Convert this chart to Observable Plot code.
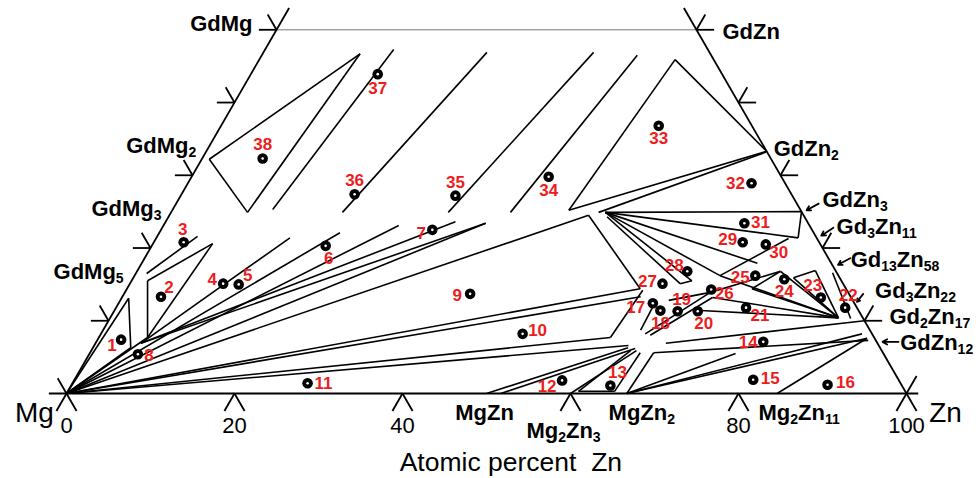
<!DOCTYPE html>
<html><head><meta charset="utf-8">
<script src="https://cdn.jsdelivr.net/npm/d3@7"></script>
<script src="https://cdn.jsdelivr.net/npm/@observablehq/plot@0.6"></script>
<style>body{margin:0;background:#fff}</style>
</head><body><div id="chart"></div>
<script>
// ---- data: compositions in at.% (Zn, Gd) ----
const tickValues = [10, 20, 30, 40, 50];
const baseTicks = [20, 40, 60, 80];
const baseTickLabels = ["0", "20", "40", "80", "100"];
const baseTickLabelZn = [0, 20, 40, 80, 100];

const pointIds = [1,2,3,4,5,6,7,8,9,10,11,12,13,14,15,16,17,18,19,20,21,22,23,24,25,26,27,28,29,30,31,32,33,34,35,36,37,38];
const pointZn = [2.8,4.6,3.55,11.1,13,20.7,32.3,5.8,41.2,50.2,28,58.1,64.2,79.4,80.8,90,63.6,65,67.1,69.5,75,86.8,83.2,77.6,73.9,69.6,63.4,65.5,70.1,73,69,67.1,52.1,42.5,32.7,20.6,15.1,7.2];
const pointGd = [7.4,13.3,20.8,15.1,15,20.3,22.5,5.4,13.7,8.2,1.4,1.8,1.1,7.1,1.9,1.2,12.4,11.4,11.3,11.3,11.8,11.8,13.2,15.7,16.2,14.3,15.1,16.8,20.8,20.5,23.4,28.9,36.8,29.8,27.2,27.4,43.9,32.3];

// tie-lines / phase boundaries: [Zn1, Gd1, Zn2, Gd2]
const tieLines = [
  [11.6,46.7, 0.9,32.2],[0.9,32.2, 9.1,24.9],[11.6,46.7, 9.1,24.9],
  [15.3,47.3, 11.9,25.3],[26.6,46.9, 20.4,24.9],[39.3,46.9, 33.0,24.9],[44.7,46.5, 40.4,24.9],
  [49.5,45.9, 47.2,25.2],[49.5,45.9, 66.7,33.3],[47.2,25.2, 66.7,33.3],[50.9,24.9, 66.7,33.2],
  [51.7,24.9, 75,25],[75,25, 76.4,21.4],[51.7,24.9, 76.4,21.4],
  [51.7,24.9, 69.7,16.2],[69.7,16.2, 75.3,21.3],[51.7,24.9, 73.3,17.9],
  [49.9,24.5, 61.1,14.4],[52.2,24.3, 65.5,15.1],[51.7,24.9, 66.7,15.5],[65.5,15.1, 66.7,15.5],
  [86.7,10.4, 69.7,16.2],[86.7,10.4, 74.4,14.4],[86.7,10.4, 76.6,16.8],[74.4,14.4, 76.6,16.8],
  [78.6,15.9, 80.7,16.9],[80.7,16.9, 86.7,10.4],[78.6,15.9, 86.7,10.4],[82.9,16.6, 88.2,10.3],
  [86.7,10.4, 69.8,11.4],
  [64.8,8.2, 69.7,13.9],[65.5,8.0, 70.3,13.2],[65.3,12.8, 69.7,13.9],[70.3,13.2, 86.7,10.4],
  [69.7,13.9, 76.6,16.8],[64,8.7, 63.8,12.8],
  [66.7,0, 91.5,7.6],[66.7,0, 90.6,8.2],[84.6,0, 91.5,7.6],[67.9,6.9, 90,10],[67.1,5.6, 91.8,7.3],
  [61.5,14.2, 60.9,7.7],
  [0,0, 61.1,14.4],[0,0, 61.7,13.3],[0,0, 60.9,7.7],[0,0, 63.6,6.6],[0,0, 49.9,24.5],
  [5.4,6.9, 34.5,23.6],[5.4,6.9, 38.2,23.4],[0,0, 38.2,23.4],[0,0, 28,23.1],[0,0, 21.5,22.1],[5.4,6.9, 15.9,21.4],
  [0,0, 0.85,13.1],[0.85,13.1, 4.5,6.3],[0,0, 4.5,6.3],[0,0, 5.8,7.7],
  [1.9,15.5, 5.8,7.7],[1.9,15.5, 7.1,20.6],[7.1,20.6, 5.8,7.7],[1.3,16.5, 4.8,21.6],
  [50,0, 63.7,6.3],[51.7,0, 64.6,6.2],[60,0, 64.9,5.9],
  [60.8,0.3, 65.1,0.3],[60.8,0.3, 64.2,5.9],[65.1,0.3, 65.5,5.6],
  [66.7,0, 67.1,5.6],[66.7,0, 76.9,5.5]
];

// compound labels
const compoundNames = ["GdMg","GdMg2","GdMg3","GdMg5","GdZn","GdZn2","GdZn3","Gd3Zn11","Gd13Zn58","Gd3Zn22","Gd2Zn17","GdZn12","MgZn","Mg2Zn3","MgZn2","Mg2Zn11"];
const compoundZn = [0,0,0,0,50,66.7,75,78.6,81.7,88,89.5,92.3,50,60,66.7,84.6];
const compoundGd = [50,33.3,25,16.7,50,33.3,25,21.4,18.3,12,10.5,7.7,0,0,0,0];

// arrows pointing to compounds [Zn1,Gd1,Zn2,Gd2]
const pointerArrows = [
  [76.5,26.1, 75.5,25.2],[79.9,22.8, 79,21.7],[84,18.6, 83,17.7],[88,13.7, 87.8,12.6],[95.5,7.1, 93.6,7.1]
];

// ---- layout / style (not data) ----
const W = 976, H = 478, mL = 66, mR = 70, mT = 29.3, mB = 85;
const labelOffsets = {
  1:[-9,6],2:[8,-9],3:[-1,-13],4:[-11,-4],5:[9,-9],6:[3,13],7:[-11,4],8:[11,1],9:[-13,2],10:[15,-3],
  11:[16,0],12:[-15,6],13:[7,-13],14:[-15,1],15:[17,-1],16:[18,-2],17:[-17,4],18:[0,13],19:[4,-12],20:[6,12],
  21:[14,8],22:[3,-12],23:[-8,-12],24:[0,12],25:[-15,2],26:[13,4],27:[-15,-2],28:[-13,-6],29:[-15,-3],30:[13,8],
  31:[16,-1],32:[-16,0],33:[0,13],34:[0,14],35:[0,-13],36:[0,-14],37:[0,14],38:[0,-14]
};
const compoundPlace = {
  "GdMg":["end",-24,-6],"GdMg2":["end",-10,-5],"GdMg3":["end",-10,-3],"GdMg5":["end",-13,0],
  "GdZn":["start",26,2],"GdZn2":["start",7,-2],"GdZn3":["start",21,-12],"Gd3Zn11":["start",20,-11],
  "Gd13Zn58":["start",21,0],"Gd3Zn22":["start",19,-15],"Gd2Zn17":["start",27,0],"GdZn12":["start",26,5],
  "MgZn":["middle",-2,19],"Mg2Zn3":["middle",-7,37],"MgZn2":["middle",15,19],"Mg2Zn11":["middle",22,19]
};

const X = (zn, gd) => zn + gd / 2;
const segX1 = d => X(d[0], d[1]), segY1 = d => d[1], segX2 = d => X(d[2], d[3]), segY2 = d => d[3];

// frame segments built from tick values
const frame = [
  [-2.1,0, 101.4,0], [0,-2.4, 0,53], [102.4,-2.4, 47,53],
  [-2.1,2.1, 2.4,-2.4], [100,-2.4, 100,2.4]
];
for (const g of tickValues) {
  frame.push([0,g, -2.1,g], [0,g, -2.1,g+2.1]);
  frame.push([100-g,g, 102.1-g,g], [100-g,g, 100-g,g+2.1]);
}
for (const z of baseTicks) frame.push([z,0, z,-2.4], [z,0, z+2.4,-2.4]);

const points = pointIds.map((id, i) => ({id, zn: pointZn[i], gd: pointGd[i]}));
const compounds = compoundNames.map((n, i) => ({name: n, zn: compoundZn[i], gd: compoundGd[i]}));

const font = "'Liberation Sans', Arial, sans-serif";
const marks = [
  Plot.link([[0,50,50,50]], {x1: segX1, y1: segY1, x2: segX2, y2: segY2, stroke: "#777", strokeWidth: 1}),
  Plot.link(frame, {x1: segX1, y1: segY1, x2: segX2, y2: segY2, stroke: "black", strokeWidth: 1.8}),
  Plot.link(tieLines, {x1: segX1, y1: segY1, x2: segX2, y2: segY2, stroke: "black", strokeWidth: 1.6}),
  Plot.arrow(pointerArrows, {x1: segX1, y1: segY1, x2: segX2, y2: segY2, stroke: "black", strokeWidth: 1.8, headLength: 6}),
  Plot.dot(points, {x: d => X(d.zn, d.gd), y: "gd", r: 5.3, fill: "black", stroke: "none"}),
  Plot.dot(points, {x: d => X(d.zn, d.gd), y: "gd", r: 1.3, fill: "white", stroke: "none"})
];
for (const p of points) {
  const [dx, dy] = labelOffsets[p.id];
  marks.push(Plot.text([p], {x: d => X(d.zn, d.gd), y: "gd", text: d => String(d.id), dx, dy,
    fill: "#ee1c1c", fontSize: 17, fontWeight: "bold", fontFamily: font}));
}
for (const c of compounds) {
  const [anchor, dx, dy] = compoundPlace[c.name];
  marks.push(Plot.text([c], {x: d => X(d.zn, d.gd), y: "gd", text: "name", dx, dy, textAnchor: anchor,
    fill: "black", fontSize: 22, fontWeight: "bold", fontFamily: font}));
}
marks.push(Plot.text(baseTickLabels.map((t, i) => ({t, zn: baseTickLabelZn[i]})),
  {x: "zn", y: () => 0, text: "t", dy: 32, fontSize: 22, fontFamily: font, fill: "black"}));
marks.push(Plot.text([{t: "Mg", zn: 0}], {x: "zn", y: () => 0, text: "t", dx: -32, dy: 20, fontSize: 28, fontFamily: font, fill: "black"}));
marks.push(Plot.text([{t: "Zn", zn: 100}], {x: "zn", y: () => 0, text: "t", dx: 39, dy: 20, fontSize: 28, fontFamily: font, fill: "black"}));
marks.push(Plot.text([{t: "Atomic percent  Zn", zn: 52.9}], {x: "zn", y: () => 0, text: "t", dy: 69, fontSize: 26.5, fontFamily: font, fill: "black"}));

const chart = Plot.plot({
  width: W, height: H, marginLeft: mL, marginRight: mR, marginTop: mT, marginBottom: mB,
  x: {domain: [0, 100], axis: null}, y: {domain: [0, 50], axis: null},
  style: {background: "white", fontFamily: font, overflow: "visible"},
  marks
});
// render digits of compound formulas as subscripts
const nameSet = new Set(compoundNames);
d3.select(chart).selectAll("text").each(function() {
  const t = this.textContent;
  if (!nameSet.has(t)) return;
  const parts = t.match(/\d+|\D+/g);
  while (this.firstChild) this.removeChild(this.firstChild);
  let down = false;
  for (const part of parts) {
    const ts = d3.select(this).append("tspan").text(part);
    if (/\d/.test(part)) { ts.attr("font-size", 14).attr("dy", down ? null : 4); down = true; }
    else if (down) { ts.attr("dy", -4); down = false; }
  }
});
document.getElementById("chart").appendChild(chart);
</script>
</body></html>
